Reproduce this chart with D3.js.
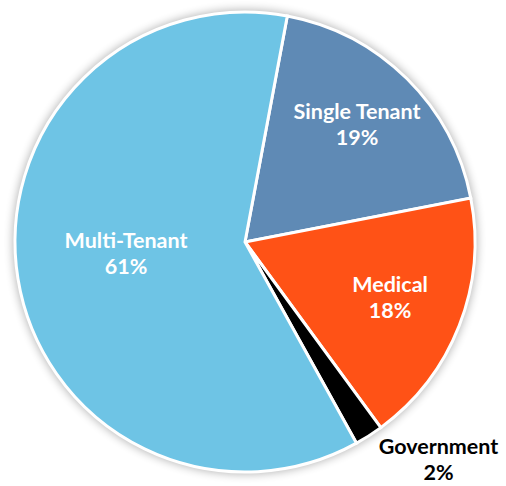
<!DOCTYPE html>
<html>
<head>
<meta charset="utf-8">
<script src="https://cdn.jsdelivr.net/npm/d3@7/dist/d3.min.js"></script>
<style>
  html, body { margin: 0; padding: 0; background: #fff; }
  svg { display: block; }
</style>
</head>
<body>
<svg id="chart" width="506" height="486"></svg>
<script>
// Portfolio mix by tenant type (percent of total)
const categories = ["Single Tenant", "Medical", "Government", "Multi-Tenant"];
const values = [19, 18, 2, 61];
const colors = ["#5F8AB5", "#FF5216", "#000000", "#6EC4E5"];
const labelColors = ["#ffffff", "#ffffff", "#000000", "#ffffff"];

const W = 506, H = 486;
const cx = 245, cy = 242, R = 230;
const startAngle = 10.6 * Math.PI / 180;

const svg = d3.select("#chart");

const defs = svg.append("defs");
const f = defs.append("filter").attr("id", "glow")
  .attr("x", "-20%").attr("y", "-20%").attr("width", "140%").attr("height", "140%");
f.append("feGaussianBlur").attr("stdDeviation", 5);

const g = svg.append("g").attr("transform", `translate(${cx},${cy})`);

// soft shadow behind the pie
g.append("circle")
  .attr("r", R + 2)
  .attr("fill", "#000")
  .attr("opacity", 0.3)
  .attr("filter", "url(#glow)");

const data = categories.map((c, i) => ({ name: c, value: values[i], color: colors[i], lc: labelColors[i] }));

const pie = d3.pie()
  .value(d => d.value)
  .sort(null)
  .startAngle(startAngle)
  .endAngle(startAngle + 2 * Math.PI);

const arcs = pie(data);
const arc = d3.arc().innerRadius(0).outerRadius(R);

g.selectAll("path.slice")
  .data(arcs)
  .join("path")
  .attr("class", "slice")
  .attr("d", arc)
  .attr("fill", d => d.data.color)
  .attr("stroke", "#fff")
  .attr("stroke-width", 3)
  .attr("stroke-linejoin", "miter");

// label placement: radius as fraction of R, angle offset (deg) from slice mid-angle
const labelPos = {
  "Single Tenant": { r: 0.71, da: -1.5 },
  "Medical": { r: 0.673, da: -1 },
  "Government": { r: 1.262, da: -9.2 },
  "Multi-Tenant": { r: 0.519, da: 4.4 }
};

const rad = Math.PI / 180;
const font = "'Lato', 'Open Sans', sans-serif";
const labels = g.selectAll("g.label")
  .data(arcs)
  .join("g")
  .attr("class", "label")
  .attr("transform", d => {
    const p = labelPos[d.data.name];
    const mid = (d.startAngle + d.endAngle) / 2 + p.da * rad;
    const [x, y] = d3.pointRadial(mid, R * p.r);
    return `translate(${x},${y})`;
  });

labels.append("text")
  .attr("text-anchor", "middle")
  .attr("y", -4)
  .attr("fill", d => d.data.lc)
  .style("font-family", font)
  .style("font-weight", 700)
  .style("font-size", "21.5px")
  .text(d => d.data.name);

labels.append("text")
  .attr("text-anchor", "middle")
  .attr("y", 22)
  .attr("fill", d => d.data.lc)
  .style("font-family", font)
  .style("font-weight", 700)
  .style("font-size", "21.5px")
  .text(d => d3.format(".0f")(d.data.value) + "%");
</script>
</body>
</html>
